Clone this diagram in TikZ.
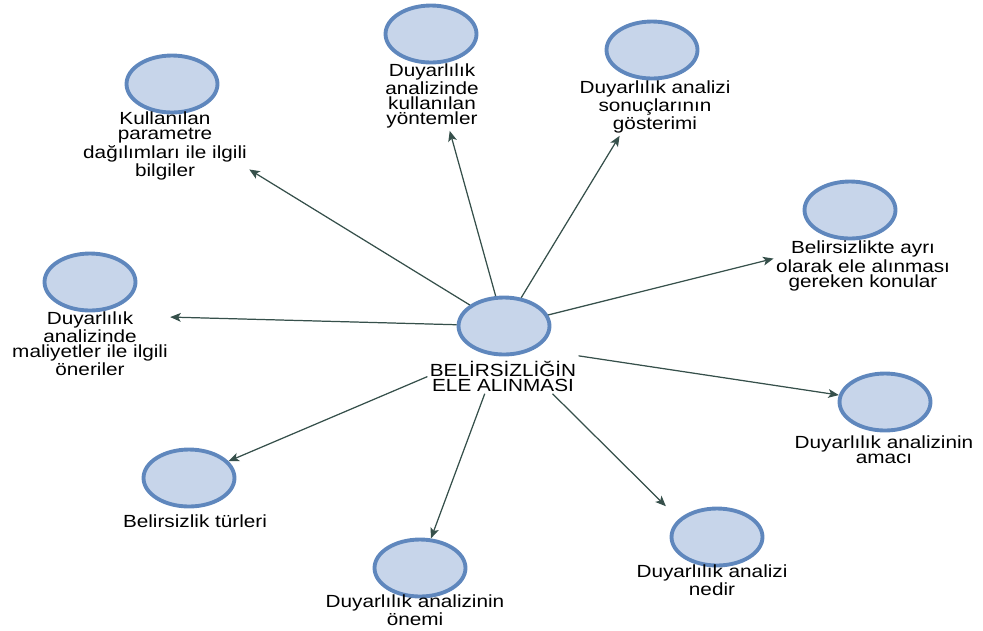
\documentclass[tikz,border=0pt]{standalone}
\usepackage{fontspec}
\setmainfont{Liberation Sans}[FakeStretch=1.18]
\usetikzlibrary{arrows.meta}
\usetikzlibrary{shapes.geometric,fit}

\definecolor{bubblefill}{HTML}{C7D5EA}
\definecolor{bubbleedge}{HTML}{5F87BD}
\definecolor{linkcol}{HTML}{36504B}

\tikzset{
  bubble/.style={ellipse, draw=bubbleedge, fill=bubblefill, line width=2.2pt, minimum width=1.82cm, minimum height=1.14cm, inner sep=0pt},
  caption/.style={align=center, font=\fontsize{10}{8.6}\selectfont, inner sep=1pt},
  group/.style={inner sep=0pt},
  link/.style={-{Stealth[length=6pt, width=5pt, inset=1.5pt]}, draw=linkcol, fill=linkcol, line width=0.7pt}
}

\begin{document}
\begin{tikzpicture}[x=0.02cm, y=-0.02cm]

      \useasboundingbox (0, 0) rectangle (983, 630);

      % centre
      \node[bubble] (c) at (504, 326) {};
      \node[caption] (c-t) at (503, 376) {BELİRSİZLİĞİN\\ELE ALINMASI};
      \node[group, fit=(c) (c-t)] (cg) {};

      % upper half
      \node[bubble] (kul) at (172, 84) {};
      \node[caption] (kul-t) at (165, 146) {Kullanılan\\parametre\\dağılımları ile ilgili\\bilgiler};
      \node[group, fit=(kul) (kul-t)] (kulg) {};

      \node[bubble] (yon) at (431, 34) {};
      \node[caption] (yon-t) at (432, 96) {Duyarlılık\\analizinde\\kullanılan\\yöntemler};
      \node[group, fit=(yon) (yon-t)] (yong) {};

      \node[bubble] (son) at (652, 50) {};
      \node[caption] (son-t) at (655, 107) {Duyarlılık analizi\\sonuçlarının\\gösterimi};
      \node[group, fit=(son) (son-t)] (song) {};

      \node[bubble] (bel) at (850, 210) {};
      \node[caption] (bel-t) at (863, 266) {Belirsizlikte ayrı\\olarak ele alınması\\gereken konular};
      \node[group, fit=(bel) (bel-t)] (belg) {};

      \node[bubble] (mal) at (90, 282) {};
      \node[caption] (mal-t) at (90, 344) {Duyarlılık\\analizinde\\maliyetler ile ilgili\\öneriler};
      \node[group, fit=(mal) (mal-t)] (malg) {};

      % lower half
      \node[bubble] (ama) at (885, 402) {};
      \node[caption] (ama-t) at (884, 450) {Duyarlılık analizinin\\amacı};

      \node[bubble] (tur) at (189, 478) {};
      \node[caption] (tur-t) at (195, 521) {Belirsizlik türleri};

      \node[bubble] (one) at (420, 568) {};
      \node[caption] (one-t) at (415, 610) {Duyarlılık analizinin\\önemi};

      \node[bubble] (ned) at (717, 537) {};
      \node[caption] (ned-t) at (712, 580) {Duyarlılık analizi\\nedir};
      \node[group, fit=(ned) (ned-t)] (nedg) {};

      \draw[link] (c) -- (kulg);
      \draw[link] (c) -- (yong);
      \draw[link] (c) -- (song);
      \draw[link] (c) -- (belg);
      \draw[link] (c) -- (malg);
      \draw[link] (cg) -- (ama);
      \draw[link] (cg) -- (tur);
      \draw[link] (cg) -- (one);
      \draw[link] (cg) -- (nedg);

\end{tikzpicture}
\end{document}
